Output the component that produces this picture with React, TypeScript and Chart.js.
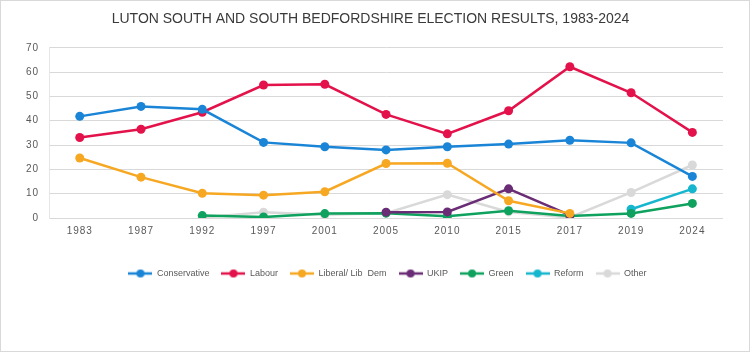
import React, { useEffect, useRef } from "react";
import { Chart, registerables } from "chart.js";

Chart.register(...registerables);

const years = ["1983", "1987", "1992", "1997", "2001", "2005", "2010", "2015", "2017", "2019", "2024"];
const conservative = [41.8, 45.9, 44.7, 31.1, 29.3, 28.0, 29.3, 30.4, 32.0, 30.9, 17.1];
const labour = [33.1, 36.5, 43.5, 54.7, 55.0, 42.6, 34.6, 44.1, 62.2, 51.5, 35.2];
const libDem = [24.7, 16.8, 10.2, 9.4, 10.8, 22.4, 22.5, 7.1, 1.9, null, null];
const ukip = [null, null, null, null, null, 2.4, 2.5, 12.0, 1.2, null, null];
const green = [null, null, 1.0, 0.4, 1.8, 2.0, 0.7, 3.0, 0.8, 1.9, 6.0];
const reform = [null, null, null, null, null, null, null, null, null, 3.6, 12.0];
const other = [null, null, 0.2, 2.4, 1.3, 2.0, 9.6, 2.5, 0.2, 10.5, 21.8];

const seriesNames = ["Conservative", "Labour", "Liberal/ Lib  Dem", "UKIP", "Green", "Reform", "Other"];
const seriesColors = ["#1a85d6", "#e3124b", "#f7a823", "#6a2c75", "#0ea25e", "#17b6cf", "#d9d9d9"];
const yTicks = [0, 10, 20, 30, 40, 50, 60, 70];

const FONT = "'Liberation Sans', Arial, sans-serif";

function legendIcon(color: string): HTMLCanvasElement {
  const c = document.createElement("canvas");
  c.width = 24;
  c.height = 10;
  const ctx = c.getContext("2d")!;
  ctx.strokeStyle = color;
  ctx.lineWidth = 2.5;
  ctx.beginPath();
  ctx.moveTo(0, 5);
  ctx.lineTo(24, 5);
  ctx.stroke();
  ctx.fillStyle = color;
  ctx.beginPath();
  ctx.arc(12, 5, 4, 0, Math.PI * 2);
  ctx.fill();
  return c;
}

const spacingPlugin = {
  id: "tickSpacing",
  afterLayout(chart: any) {
    Object.values(chart.scales).forEach((s: any) => {
      if (s.__patched) return;
      s.__patched = true;
      const orig = s.drawLabels.bind(s);
      s.drawLabels = (ca: any) => {
        const ctx = s.ctx;
        ctx.save();
        ctx.letterSpacing = "1px";
        orig(ca);
        ctx.restore();
      };
    });
    if (chart.legend) {
      chart.legend.left += 34;
    }
  },
};

export default function App() {
  const ref = useRef<HTMLCanvasElement>(null);
  useEffect(() => {
    document.body.style.margin = "0";
    const all = [conservative, labour, libDem, ukip, green, reform, other];
    const icons = seriesColors.map((c) => legendIcon(c));
    const chart = new Chart(ref.current!, {
      type: "line",
      data: {
        labels: years,
        datasets: all.map((d, i) => ({
          label: seriesNames[i],
          data: d,
          borderColor: seriesColors[i],
          backgroundColor: seriesColors[i],
          pointBackgroundColor: seriesColors[i],
          pointBorderColor: seriesColors[i],
          pointRadius: 4.5,
          pointBorderWidth: 0,
          borderWidth: 2.5,
          pointStyle: "circle",
          spanGaps: false,
          order: i,
        })),
      },
      options: {
        animation: false,
        responsive: true,
        maintainAspectRatio: false,
        layout: { padding: { left: 17, right: 26, top: 0, bottom: 63 } },
        plugins: {
          title: {
            display: true,
            text: "LUTON SOUTH AND SOUTH BEDFORDSHIRE ELECTION RESULTS, 1983-2024",
            color: "#3a3a3a",
            font: { family: FONT, size: 14, weight: "normal" },
            padding: { top: 10, bottom: 20 },
          },
          legend: {
            position: "bottom",
            labels: {
              usePointStyle: true,
              pointStyleWidth: 24,
              padding: 12,
              color: "#595959",
              font: { family: FONT, size: 9 },
              generateLabels: (ch: any) =>
                ch.data.datasets.map((ds: any, i: number) => ({
                  text: ds.label,
                  fillStyle: seriesColors[i],
                  strokeStyle: seriesColors[i],
                  pointStyle: icons[i],
                  lineWidth: 0,
                  hidden: false,
                  datasetIndex: i,
                  fontColor: "#595959",
                })),
            },
          },
          tooltip: { enabled: false },
        },
        scales: {
          x: {
            offset: true,
            grid: { display: false, drawTicks: false },
            border: { display: false },
            ticks: { color: "#595959", font: { family: FONT, size: 10 }, padding: 7, maxRotation: 0 },
            afterFit: (s: any) => {
              s.height += 13;
            },
          },
          y: {
            min: 0,
            max: 70,
            afterBuildTicks: (s: any) => {
              s.ticks = yTicks.map((v) => ({ value: v }));
            },
            grid: { color: "#d9d9d9", drawTicks: false, lineWidth: 1 },
            border: { display: true, color: "#e6e6e6" },
            ticks: { color: "#595959", font: { family: FONT, size: 10 }, padding: 10 },
          },
        },
      },
      plugins: [spacingPlugin],
    });
    return () => chart.destroy();
  }, []);
  return (
    <div
      style={{
        position: "absolute",
        left: 0,
        top: 0,
        width: 750,
        height: 352,
        border: "1px solid #d9d9d9",
        boxSizing: "border-box",
        background: "#fff",
      }}
    >
      <canvas ref={ref} />
    </div>
  );
}
